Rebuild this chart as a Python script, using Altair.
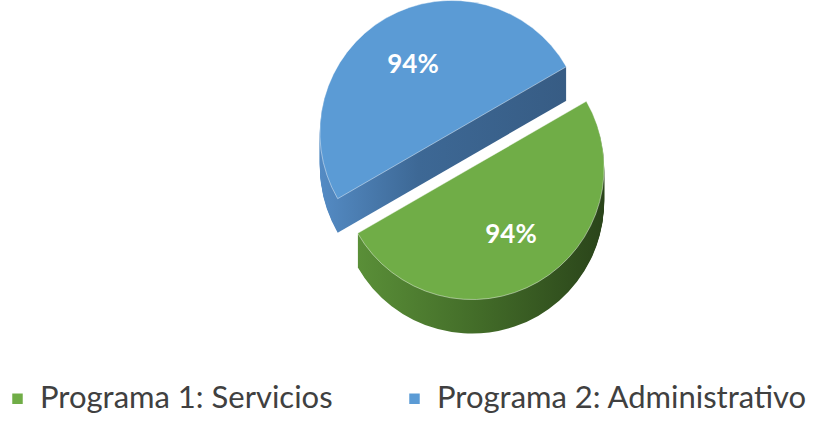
import math
import altair as alt
import pandas as pd

# ---- data ----
categories = ["Programa 1: Servicios", "Programa 2: Administrativo"]
values = [94, 94]
labels = ["94%", "94%"]
top_colors = ["#70AD47", "#5B9BD5"]

df = pd.DataFrame({"category": categories, "value": values, "label": labels})
total = sum(values)

# ---- layout ----
W, H = 840, 421
CX, CY = 462, 150
R = 132
EXPLODE = 20
DEPTH = 34
START = math.radians(60)

theta_scale = alt.Scale(domain=[0, total], range=[START, START + 2 * math.pi])
color_scale = alt.Scale(domain=categories, range=top_colors)

base = (
    alt.Chart(df)
    .transform_stack(stack="value", groupby=[], as_=["v0", "v1"],
                     sort=[alt.SortField("category", order="ascending")])
    .transform_calculate(mid="(datum.v0 + datum.v1) / 2")
)

side_grads = {
    categories[0]: alt.LinearGradient(
        gradient="linear", x1=0, x2=1, y1=0, y2=0,
        stops=[alt.GradientStop(color="#5A8F38", offset=0),
               alt.GradientStop(color="#426B28", offset=0.5),
               alt.GradientStop(color="#2A441A", offset=1)]),
    categories[1]: alt.LinearGradient(
        gradient="linear", x1=0, x2=1, y1=0, y2=0,
        stops=[alt.GradientStop(color="#548BC4", offset=0),
               alt.GradientStop(color="#3D6895", offset=0.4),
               alt.GradientStop(color="#375C84", offset=1)]),
}

# explode direction = slice bisector
def center_of(i):
    v0 = sum(values[:i])
    mid = v0 + values[i] / 2
    ang = START + 2 * math.pi * mid / total
    return CX + EXPLODE * math.sin(ang), CY - EXPLODE * math.cos(ang)

layers = []
draw_order = [1, 0]  # blue (behind) first, then green
for i in draw_order:
    cat = categories[i]
    cx, cy = center_of(i)
    sub = base.transform_filter(alt.datum.category == cat)
    for d in range(DEPTH, 0, -1):
        layers.append(
            sub.mark_arc(radius=R, color=side_grads[cat]).encode(
                theta=alt.Theta("v0:Q", scale=theta_scale),
                theta2="v1:Q",
                x=alt.value(cx), y=alt.value(cy + d),
            )
        )
    layers.append(
        sub.mark_arc(radius=R, stroke="#ffffff", strokeWidth=0.8, strokeOpacity=0.55).encode(
            theta=alt.Theta("v0:Q", scale=theta_scale),
            theta2="v1:Q",
            color=alt.Color("category:N", scale=color_scale, title=None,
                            legend=alt.Legend(orient="none", legendX=2, legendY=383,
                                              direction="horizontal",
                                              symbolType="square", symbolSize=110,
                                              symbolStrokeWidth=0,
                                              labelFontSize=31, labelFont="Lato",
                                              labelColor="#404040", labelLimit=0,
                                              labelOffset=7, columnPadding=66)),
            x=alt.value(cx), y=alt.value(cy),
        )
    )
    layers.append(
        sub.mark_text(radius=78, fontSize=26, fontWeight="bold", font="Lato",
                      color="white", align="center", baseline="middle").encode(
            theta=alt.Theta("mid:Q", scale=theta_scale),
            text="label:N",
            x=alt.value(cx), y=alt.value(cy),
        )
    )

chart = (
    alt.layer(*layers)
    .properties(width=W, height=H, padding=0, autosize=alt.AutoSizeParams(type="none"))
    .configure_view(stroke=None)
    .resolve_scale(theta="shared")
)

chart.save("out.html", embed_options={"renderer": "svg", "actions": False})
